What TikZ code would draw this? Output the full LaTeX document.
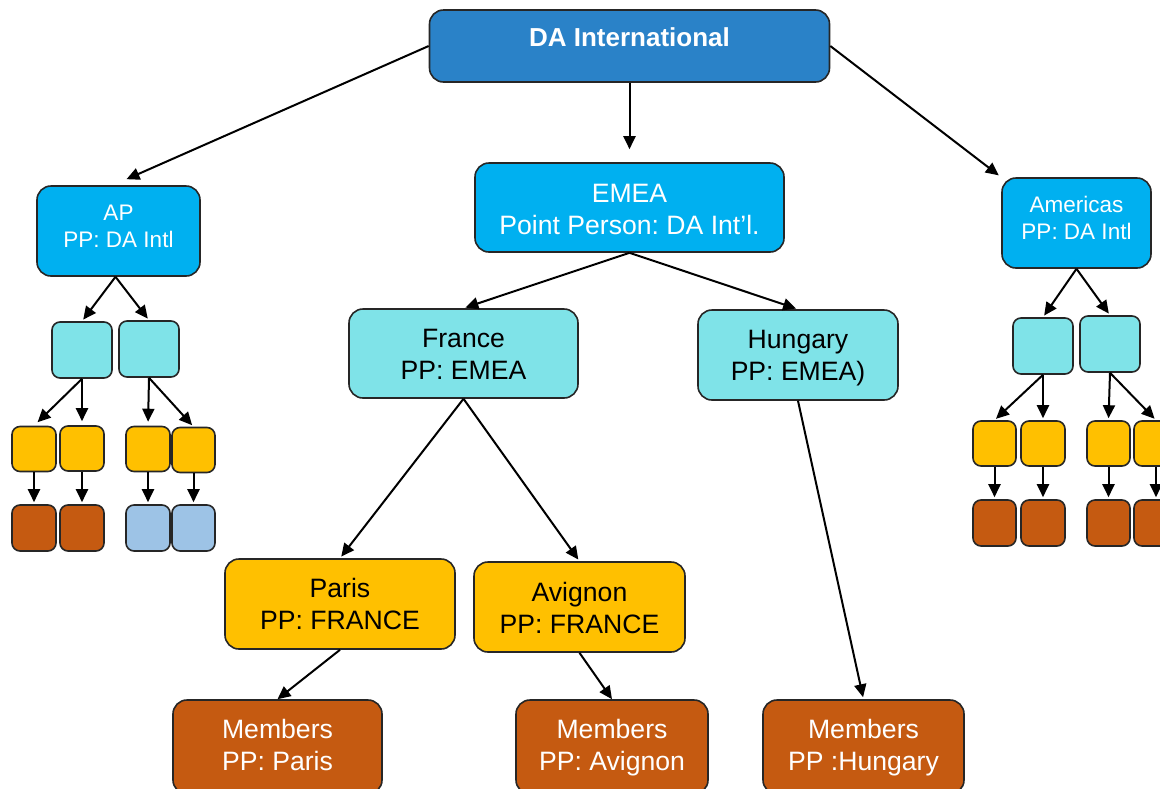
\documentclass[tikz,border=0pt]{standalone}
\usepackage{fontspec}
\setmainfont{Liberation Sans}
\usetikzlibrary{arrows.meta,calc}
\definecolor{cDA}{HTML}{2A82C8}
\definecolor{cReg}{HTML}{00B0F0}
\definecolor{cTeal}{HTML}{7FE3E8}
\definecolor{cYel}{HTML}{FFC000}
\definecolor{cBrn}{HTML}{C55A11}
\definecolor{cLBl}{HTML}{9DC3E6}
\tikzset{
  bx/.style={draw=black!85, line width=1.6pt, rounded corners=14pt, inner sep=0pt},
  sbx/.style={draw=black!85, line width=1.6pt, rounded corners=8pt, inner sep=0pt},
  txt/.style={inner sep=0pt, align=center, font=\fontsize{26.6}{32}\selectfont\frenchspacing},
  stxt/.style={inner sep=0pt, align=center, font=\fontsize{22.5}{27.5}\selectfont\frenchspacing},
  arr/.style={line width=2pt, -{Triangle[length=13pt,width=12pt]}, shorten >=2pt},
}
\begin{document}
\begin{tikzpicture}[x=1pt,y=-1pt]
\useasboundingbox (0,0) rectangle (1160,788);
\clip (0,0) rectangle (1160,788);
% main boxes
\node[bx, fill=cDA, minimum width=400pt, minimum height=72pt] (da) at (629.5,46) {};
\node[bx, fill=cReg, minimum width=309pt, minimum height=89pt] (emea) at (629.5,207.5) {};
\node[bx, fill=cReg, minimum width=163pt, minimum height=90pt] (ap) at (118.5,231) {};
\node[bx, fill=cReg, minimum width=149pt, minimum height=90pt] (am) at (1076.5,223) {};
\node[bx, fill=cTeal, minimum width=229pt, minimum height=89pt] (france) at (463.5,353.5) {};
\node[bx, fill=cTeal, minimum width=200pt, minimum height=90pt] (hungary) at (798,355) {};
\node[bx, fill=cYel, minimum width=230pt, minimum height=90pt] (paris) at (340,604) {};
\node[bx, fill=cYel, minimum width=211pt, minimum height=90pt] (avignon) at (579.5,607) {};
\node[bx, fill=cBrn, minimum width=209pt, minimum height=94pt] (mparis) at (277.5,747) {};
\node[bx, fill=cBrn, minimum width=192pt, minimum height=94pt] (mavig) at (612,747) {};
\node[bx, fill=cBrn, minimum width=201pt, minimum height=94pt] (mhung) at (863.5,747) {};
% texts
\node[txt, text=white, font=\fontsize{26}{32}\selectfont\bfseries] (da-t) at (da.center |- 0,40.4) {\strut DA International};
\node[txt, text=white] (emea-t) at (emea.center |- 0,211.7) {\strut EMEA\\\strut Point Person: DA Int’l.};
\node[stxt, text=white] (ap-t) at (ap.center |- 0,228.6) {\strut AP\\\strut PP: DA Intl};
\node[stxt, text=white, font=\fontsize{22.5}{27}\selectfont\frenchspacing] (am-t) at (am.center |- 0,220.5) {\strut Americas\\\strut PP: DA Intl};
\node[txt] (france-t) at (france.center |- 0,357) {\strut France\\\strut PP: EMEA};
\node[txt] (hungary-t) at (hungary.center |- 0,357.7) {\strut Hungary\\\strut PP: EMEA)};
\node[txt] (paris-t) at (paris.center |- 0,606.8) {\strut Paris\\\strut PP: FRANCE};
\node[txt] (avignon-t) at (avignon.center |- 0,611) {\strut Avignon\\\strut PP: FRANCE};
\node[txt, text=white] (mparis-t) at (mparis.center |- 0,748.5) {\strut Members\\\strut PP: Paris};
\node[txt, text=white] (mavig-t) at (mavig.center |- 0,748.5) {\strut Members\\\strut PP: Avignon};
\node[txt, text=white] (mhung-t) at (mhung.center |- 0,748.2) {\strut Members\\\strut PP :Hungary};
% left small tree
\node[sbx, fill=cTeal, minimum width=60pt, minimum height=56pt] (t1) at (82,350) {};
\node[sbx, fill=cTeal, minimum width=60pt, minimum height=56pt] (t2) at (149,349) {};
\node[sbx, fill=cYel, minimum width=44pt, minimum height=45pt] (y1) at (34,449) {};
\node[sbx, fill=cYel, minimum width=44pt, minimum height=45pt] (y2) at (82,448.5) {};
\node[sbx, fill=cYel, minimum width=44pt, minimum height=45pt] (y3) at (148,449) {};
\node[sbx, fill=cYel, minimum width=43pt, minimum height=45pt] (y4) at (193.5,450) {};
\node[sbx, fill=cBrn, minimum width=44pt, minimum height=46pt] (b1) at (34,528) {};
\node[sbx, fill=cBrn, minimum width=44pt, minimum height=46pt] (b2) at (82,528) {};
\node[sbx, fill=cLBl, minimum width=44pt, minimum height=46pt] (b3) at (148,528) {};
\node[sbx, fill=cLBl, minimum width=43pt, minimum height=46pt] (b4) at (193.5,528) {};
% right small tree
\node[sbx, fill=cTeal, minimum width=60pt, minimum height=56pt] (rt1) at (1043,346) {};
\node[sbx, fill=cTeal, minimum width=60pt, minimum height=56pt] (rt2) at (1110,344) {};
\node[sbx, fill=cYel, minimum width=43pt, minimum height=45pt] (ry1) at (994.5,443.5) {};
\node[sbx, fill=cYel, minimum width=44pt, minimum height=45pt] (ry2) at (1043,443.5) {};
\node[sbx, fill=cYel, minimum width=43pt, minimum height=45pt] (ry3) at (1108.5,443.5) {};
\node[sbx, fill=cYel, minimum width=44pt, minimum height=45pt] (ry4) at (1156,443.5) {};
\node[sbx, fill=cBrn, minimum width=43pt, minimum height=46pt] (rb1) at (994.5,523) {};
\node[sbx, fill=cBrn, minimum width=44pt, minimum height=46pt] (rb2) at (1043,523) {};
\node[sbx, fill=cBrn, minimum width=43pt, minimum height=46pt] (rb3) at (1108.5,523) {};
\node[sbx, fill=cBrn, minimum width=44pt, minimum height=46pt] (rb4) at (1156,523) {};
% main connectors
\draw[arr, shorten >=0pt] (da.west) -- ($(ap.north)+(8,-6)$);
\draw[arr, shorten >=13pt] (da.south) -- (emea.north);
\draw[arr, shorten >=3pt] (da.east) -- (am.north west);
\draw[arr] (emea.south) -- (france.north);
\draw[arr] (emea.south) -- (hungary.north);
\draw[arr] (france.south) -- (paris.north);
\draw[arr] (france.south) -- (avignon.north);
\draw[arr] (hungary.south) -- (mhung.north);
\draw[arr, shorten >=0pt] (paris.south) -- (mparis.north);
\draw[arr, shorten >=0pt] (avignon.south) -- (mavig.north);
% left tree connectors
\draw[arr] ($(ap.south)+(-3,0)$) -- (t1.north);
\draw[arr] ($(ap.south)+(-3,0)$) -- (t2.north);
\draw[arr, shorten >=5pt] (t1.south) -- (y1.north);
\draw[arr, shorten >=4pt] (t1.south) -- (y2.north);
\draw[arr, shorten >=4pt] (t2.south) -- (y3.north);
\draw[arr] (t2.south) -- (y4.north);
\foreach \a/\b in {y1/b1,y2/b2,y3/b3,y4/b4}{\draw[arr] (\a.south) -- (\b.north);}
% right tree connectors
\draw[arr] (am.south) -- (rt1.north);
\draw[arr] (am.south) -- (rt2.north);
\draw[arr] (rt1.south) -- (ry1.north);
\draw[arr] (rt1.south) -- (ry2.north);
\draw[arr] (rt2.south) -- (ry3.north);
\draw[arr] (rt2.south) -- (ry4.north);
\foreach \a/\b in {ry1/rb1,ry2/rb2,ry3/rb3,ry4/rb4}{\draw[arr] (\a.south) -- (\b.north);}
\end{tikzpicture}
\end{document}
